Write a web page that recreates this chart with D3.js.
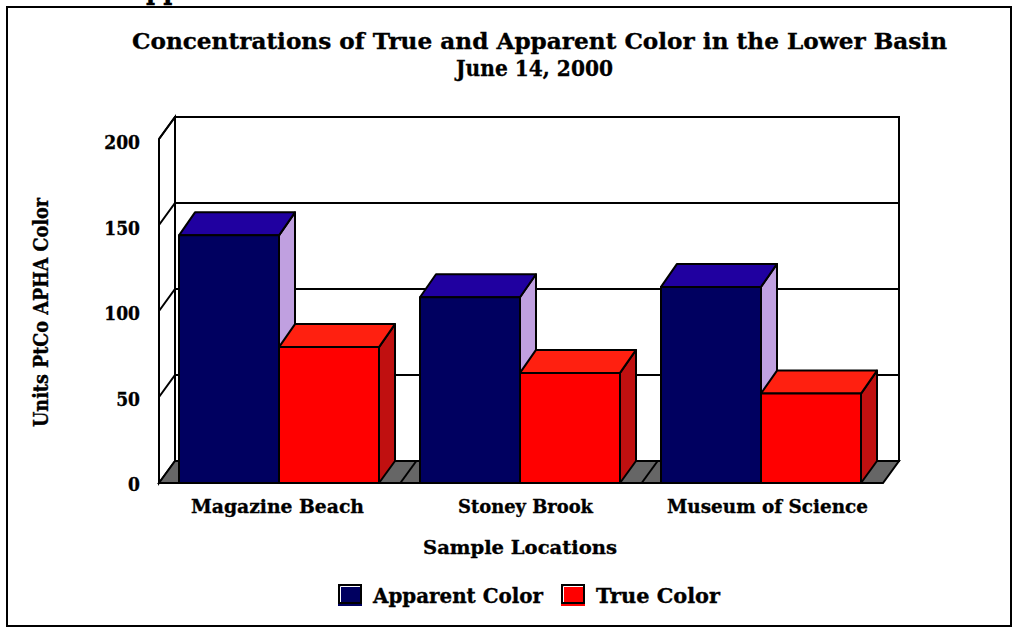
<!DOCTYPE html>
<html><head><meta charset="utf-8">
<script src="https://cdn.jsdelivr.net/npm/d3@7/dist/d3.min.js"></script>
<style>html,body{margin:0;padding:0;background:#fff}svg{display:block}
text{font-family:"DejaVu Serif",serif;font-weight:bold;fill:#000;stroke:#000;stroke-width:0.35px}
.cond{font-family:"DejaVu Serif Condensed","DejaVu Serif",serif}</style>
</head><body><svg id="c" width="1013" height="629"></svg>
<script>
const categories=["Magazine Beach","Stoney Brook","Museum of Science"];
const seriesNames=["Apparent Color","True Color"];
const apparentColor=[144,108,114];
const trueColor=[79,64,52];
const yTicks=[0,50,100,150,200];
const titleLines=["Concentrations of True and Apparent Color in the Lower Basin","June 14, 2000"];
const frontFill=["#000060","#ff0000"],topFill=["#2000a0","#ff2010"],sideFill=["#c0a0e0","#c01010"];

const svg=d3.select("#c");
const depth={x:16,y:-22},barTopDepth=-23;
const x=d3.scaleBand().domain(categories).range([159,883]).paddingInner(0).paddingOuter(0);
const xBars=d3.scaleBand().domain(categories).range([158.5,881.5]).paddingInner(0).paddingOuter(0);
const y=d3.scaleLinear().domain([0,200]).range([483,139]);
const labelY=d3.scaleLinear().domain([0,200]).range([491,149]);
const inner=d3.scaleBand().domain(seriesNames).range([0,xBars.bandwidth()]).paddingOuter(0.205).paddingInner(0);
const poly=p=>p.map(a=>a.join(",")).join(" ");
const lw=2;
const fit=(s,w)=>s.attr("textLength",w).attr("lengthAdjust","spacingAndGlyphs");

fit(svg.append("text").attr("x",127).attr("y",-2).attr("font-size",34).text("Apparent Color"),210);
svg.append("rect").attr("x",7).attr("y",7).attr("width",1004).attr("height",619).attr("fill","none").attr("stroke","#000").attr("stroke-width",lw);

// walls
const xl=x.range()[0],xr=x.range()[1];
svg.append("rect").attr("x",xl+depth.x).attr("y",y(200)+depth.y).attr("width",xr-xl).attr("height",y(0)-y(200)).attr("fill","#fff").attr("stroke","#000").attr("stroke-width",lw);
svg.append("polygon").attr("points",poly([[xl,y(0)],[xl+depth.x,y(0)+depth.y],[xl+depth.x,y(200)+depth.y],[xl,y(200)]])).attr("fill","#fff").attr("stroke","#000").attr("stroke-width",lw);
svg.append("polygon").attr("points",poly([[xl,y(0)],[xr,y(0)],[xr+depth.x,y(0)+depth.y],[xl+depth.x,y(0)+depth.y]])).attr("fill","#666").attr("stroke","#000").attr("stroke-width",lw);
// gridlines
yTicks.filter(t=>t>0).forEach(t=>{
  svg.append("polyline").attr("points",poly([[xl,y(t)],[xl+depth.x,y(t)+depth.y],[xr+depth.x,y(t)+depth.y]])).attr("fill","none").attr("stroke","#000").attr("stroke-width",lw);
});
// floor dividers
categories.slice(1).forEach(c=>{
  svg.append("line").attr("x1",x(c)).attr("y1",y(0)).attr("x2",x(c)+depth.x).attr("y2",y(0)+depth.y).attr("stroke","#000").attr("stroke-width",lw);
});
// bars
const box=(x0,w,v,i)=>{
  const g=svg.append("g").attr("stroke","#000").attr("stroke-width",lw).attr("stroke-linejoin","round");
  const top=y(v),bot=y(0),x1=x0+w;
  g.append("polygon").attr("points",poly([[x1,bot],[x1+depth.x,bot+depth.y],[x1+depth.x,top+barTopDepth],[x1,top]])).attr("fill",sideFill[i]);
  g.append("polygon").attr("points",poly([[x0,top],[x1,top],[x1+depth.x,top+barTopDepth],[x0+depth.x,top+barTopDepth]])).attr("fill",topFill[i]);
  g.append("rect").attr("x",x0).attr("y",top).attr("width",w).attr("height",bot-top).attr("fill",frontFill[i]);
};
categories.forEach((c,k)=>{
  [apparentColor,trueColor].forEach((s,i)=>box(xBars(c)+inner(seriesNames[i]),inner.bandwidth(),s[k],i));
});
svg.append("line").attr("x1",xl).attr("x2",xr).attr("y1",y(0)).attr("y2",y(0)).attr("stroke","#000").attr("stroke-width",lw);

// axis labels
svg.append("g").selectAll("text").data(yTicks).join("text").attr("class","cond").attr("x",140).attr("y",d=>labelY(d)).attr("text-anchor","end").attr("font-size",19).text(d=>d);
const catCenter=[277.5,525.5,767.5],catWidth=[173,135,201];
svg.append("g").selectAll("text").data(categories).join("text").attr("x",(d,i)=>catCenter[i]).attr("y",513).attr("text-anchor","middle").attr("font-size",18.5).attr("textLength",(d,i)=>catWidth[i]).attr("lengthAdjust","spacingAndGlyphs").text(d=>d);
fit(svg.append("text").attr("x",520).attr("y",554).attr("text-anchor","middle").attr("font-size",19).text("Sample Locations"),194);
fit(svg.append("text").attr("class","cond").attr("transform","translate(48,312.5) rotate(-90)").attr("text-anchor","middle").attr("font-size",19.5).text("Units PtCo APHA Color"),229);
const titleX=[539.5,534.5],titleW=[815,157];
titleLines.forEach((t,i)=>fit(svg.append("text").attr("x",titleX[i]).attr("y",49+i*27).attr("text-anchor","middle").attr("font-size",23).text(t),titleW[i]));

// legend
const lx=[339,562],legendW=[170,124],legendTx=[373,596];
seriesNames.forEach((n,i)=>{
  svg.append("rect").attr("x",lx[i]-1).attr("y",584).attr("width",24).attr("height",22).attr("fill",frontFill[i]);
  svg.append("rect").attr("x",lx[i]).attr("y",585).attr("width",22).attr("height",18).attr("fill",frontFill[i]).attr("stroke","#000").attr("stroke-width",2);
  svg.append("polyline").attr("points",poly([[lx[i]+1.5,602],[lx[i]+1.5,586.5],[lx[i]+21,586.5]])).attr("fill","none").attr("stroke","#fff").attr("stroke-width",1);
  fit(svg.append("text").attr("x",legendTx[i]).attr("y",603).attr("font-size",20).text(n),legendW[i]);
});
</script></body></html>
